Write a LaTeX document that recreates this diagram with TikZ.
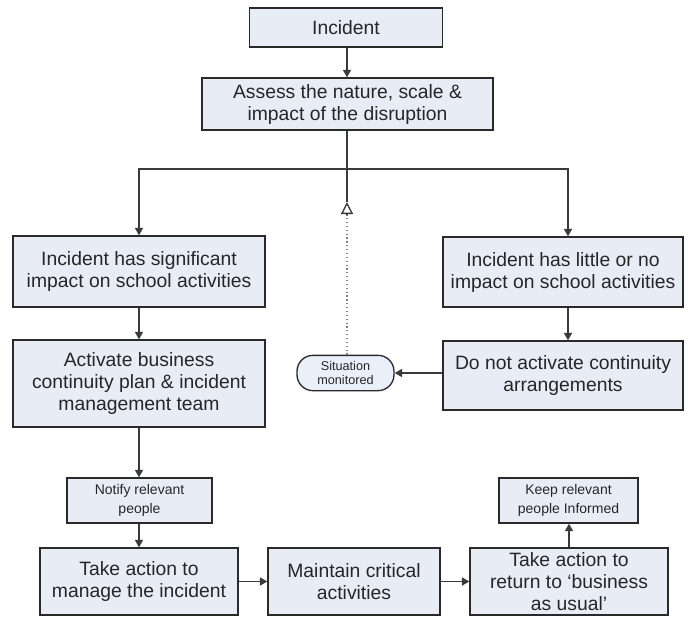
\documentclass[tikz,border=0pt]{standalone}
\usepackage{fontspec}
\setmainfont{Liberation Sans}
\usetikzlibrary{arrows.meta}
\definecolor{boxfill}{HTML}{E8EDF5}
\definecolor{monfill}{HTML}{EAF0FA}
\definecolor{edge}{HTML}{2A2A2A}
\definecolor{linec}{HTML}{3A3A3A}
\begin{document}
\begin{tikzpicture}[x=0.75pt,y=-0.75pt,
  box/.style={draw=edge,line width=1.1pt,fill=boxfill,align=center,inner sep=0pt,
    font=\fontsize{14.5}{16.5}\selectfont,text=black!85},
  smallbox/.style={box,font=\fontsize{10.5}{14.5}\selectfont},
  monbox/.style={draw=edge,line width=1pt,fill=monfill,align=center,inner sep=0pt,
    rounded corners=12pt,font=\fontsize{9.5}{11}\selectfont,text=black!85},
  arr/.style={draw=linec,line width=1.1pt,-{Triangle[length=5.5pt,width=6pt]}},
  ln/.style={draw=linec,line width=1.1pt},
  opentip/.style={draw=linec,line width=1pt,-{Triangle[open,length=9pt,width=9pt]}},
  dotln/.style={draw=gray,line width=0.9pt,dotted}]
\useasboundingbox (0,0) rectangle (688,618);
\fill[white] (0,0) rectangle (688,618);

\node[box,minimum width=144.75pt,minimum height=29.25pt] (inc) at (346,27.5) {Incident};
\node[box,minimum width=218.25pt,minimum height=39pt] (assess) at (347.5,104) {Assess the nature, scale \&\\impact of the disruption};
\node[box,minimum width=189pt,minimum height=53.25pt] (sig) at (139,271.5) {Incident has significant\\impact on school activities};
\node[box,minimum width=189pt,minimum height=65.25pt] (act) at (139,383.5) {Activate business\\continuity plan \& incident\\management team};
\node[smallbox,minimum width=108.75pt,minimum height=33.75pt] (notify) at (139.5,500.5) {Notify relevant\\people};
\node[box,minimum width=148.5pt,minimum height=50.25pt] (manage) at (139,581.5) {Take action to\\manage the incident};
\node[box,minimum width=129pt,minimum height=50.25pt] (maintain) at (354,581.5) {Maintain critical\\activities};
\node[box,minimum width=148.5pt,minimum height=50.25pt] (ret) at (569,581.5) {Take action to\\return to ‘business\\as usual’};
\node[smallbox,minimum width=104.25pt,minimum height=33.75pt] (keep) at (568.5,500.5) {Keep relevant\\people Informed};
\node[box,minimum width=180pt,minimum height=52.5pt] (little) at (563,272) {Incident has little or no\\impact on school activities};
\node[box,minimum width=180pt,minimum height=51.75pt] (donot) at (563,375.5) {Do not activate continuity\\arrangements};
\node[monbox,minimum width=72.75pt,minimum height=26.5pt] (mon) at (345.5,373) {Situation\\monitored};

\coordinate (j) at (347,169);
\coordinate (jr) at (568,169);
\coordinate (ta) at (347,202);
\coordinate (tb) at (347,215);

\draw[arr] (inc.south -| j) -- (assess.north -| j);
\draw[ln] (assess.south -| j) -- (ta);
\draw[arr] (j) -| (sig.north);
\draw[arr] (j) -- (jr) -- (jr |- little.north);
\draw[dotln] (mon.north -| tb) -- (tb);
\draw[opentip] (tb) -- (ta);
\draw[arr] (sig.south) -- (act.north);
\draw[arr] (act.south) -- (act.south |- notify.north);
\draw[arr] (notify.south -| act.south) -- (manage.north -| act.south);
\draw[arr] (manage.east) -- (maintain.west);
\draw[arr] (maintain.east) -- (ret.west);
\draw[arr] (ret.north) -- (ret.north |- keep.south);
\draw[arr] (jr |- little.south) -- (jr |- donot.north);
\draw[arr] (donot.west |- mon.east) -- (mon.east);
\end{tikzpicture}
\end{document}
